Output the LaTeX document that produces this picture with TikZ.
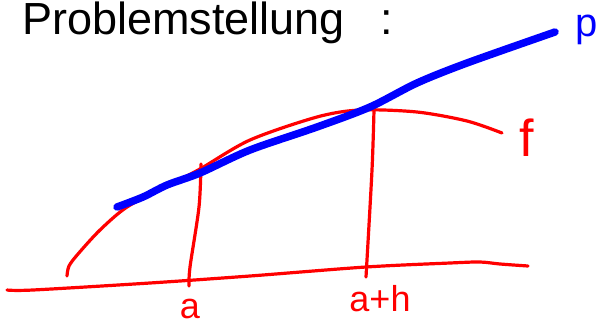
\documentclass[tikz,border=0pt]{standalone}
\usepackage{fontspec}
\setmainfont{Liberation Sans}
\usepackage{tikz}

\begin{document}
\begin{tikzpicture}[x=1pt,y=-1pt,
    fline/.style={red,line width=3.2pt,line cap=round,line join=round},
    pline/.style={blue,line width=7.5pt,line cap=round,line join=round},
    lab/.style={inner sep=0pt,anchor=base,font=\fontsize{36}{40}\selectfont}]
\useasboundingbox (0,0) rectangle (600,327);

\node[anchor=base west,inner sep=0pt,font=\fontsize{45}{50}\selectfont] (title) at (22,34) {Problemstellung\hspace{0.8em}:};

\coordinate (x0) at (7,290);
\coordinate (x1) at (528,266);
\coordinate (f0) at (67,276);
\coordinate (f1) at (502,133);
\coordinate (p0) at (117,207);
\coordinate (p1) at (555,32);
\coordinate (a0) at (201,164);
\coordinate (a1) at (189,286);
\coordinate (b0) at (374,110);
\coordinate (b1) at (366,277);

\draw[fline] plot[smooth] coordinates {(x0) (33,290) (150,283) (250,276) (366,267) (450,263) (480,262) (500,264) (x1)};
\draw[fline] plot[smooth] coordinates {(f0) (69,266) (78,254) (100,230) (127,207) (167,186) (200,169) (250,140) (317,117) (360,110) (417,112) (467,121) (f1)};
\draw[fline] plot[smooth] coordinates {(a0) (199,207) (190,267) (a1)};
\draw[fline] plot[smooth] coordinates {(b0) (372,170) (b1)};
\draw[pline] plot[smooth] coordinates {(p0) (143,197) (167,185) (200,173) (250,150) (317,127) (370,107) (417,83) (467,63) (p1)};

\node[lab,red] (a) at (190,318) {a};
\node[lab,red] (ah) at (380,311) {a+h};
\node[lab,red,font=\fontsize{52}{56}\selectfont] (f) at (527,156) {f};
\node[lab,blue,font=\fontsize{40}{44}\selectfont] (p) at (587,36) {p};
\end{tikzpicture}
\end{document}
